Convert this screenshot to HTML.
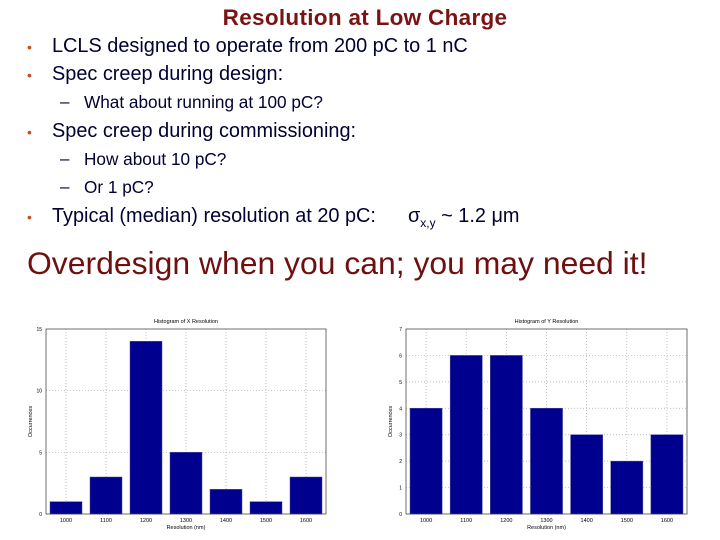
<!DOCTYPE html>
<html><head><meta charset="utf-8"><style>
body{margin:0;width:720px;height:540px;background:#fff;position:relative;overflow:hidden;font-family:"Liberation Sans",Arial,sans-serif}
.t{position:absolute;white-space:nowrap;line-height:20px;color:#000033}
.b{position:absolute;color:#c0501f;font-size:14px;line-height:20px}
</style></head><body>
<div class="t" style="left:0;width:730px;text-align:center;top:8px;font-size:22.5px;font-weight:bold;color:#7a1414;letter-spacing:0.3px">Resolution at Low Charge</div>
<div class="b" style="left:27px;top:37px">•</div>
<div class="t" style="left:52px;top:36px;font-size:19.9px">LCLS designed to operate from 200 pC to 1 nC</div>
<div class="b" style="left:27px;top:65px">•</div>
<div class="t" style="left:52px;top:64px;font-size:19.9px">Spec creep during design:</div>
<div class="t" style="left:60px;top:92px;font-size:17px">–</div>
<div class="t" style="left:84px;top:92px;font-size:17.2px">What about running at 100 pC?</div>
<div class="b" style="left:27px;top:122px">•</div>
<div class="t" style="left:52px;top:121px;font-size:19.9px">Spec creep during commissioning:</div>
<div class="t" style="left:60px;top:149px;font-size:17px">–</div>
<div class="t" style="left:84px;top:149px;font-size:17.2px">How about 10 pC?</div>
<div class="t" style="left:60px;top:177px;font-size:17px">–</div>
<div class="t" style="left:84px;top:177px;font-size:17.2px">Or 1 pC?</div>
<div class="b" style="left:27px;top:207px">•</div>
<div class="t" style="left:52px;top:206px;font-size:19.9px">Typical (median) resolution at 20 pC:</div>
<div class="t" style="left:408px;top:206px;font-size:19.9px">σ<sub style="font-size:12px">x,y</sub> ~ 1.2 μm</div>
<div class="t" style="left:27px;top:246px;font-size:31.9px;line-height:34px;color:#6e1010">Overdesign when you can; you may need it!</div>
<svg id="c" width="720" height="540" style="position:absolute;left:0;top:0"></svg>
<script>
const categories=["1000","1100","1200","1300","1400","1500","1600"];
const xValues=[1,3,14,5,2,1,3];
const yValues=[4,6,6,4,3,2,3];
const xTicks=[0,5,10,15];
const yTicks=[0,1,2,3,4,5,6,7];
const NS="http://www.w3.org/2000/svg",svg=document.getElementById('c');
function mk(t,a,p){const e=document.createElementNS(NS,t);for(const k in a)e.setAttribute(k,a[k]);(p||svg).appendChild(e);return e;}
function chart(name,title,vals,ticks,L,R,T,B){
 const g=mk('g',{});
 
 
 const ymax=ticks[ticks.length-1],band=(R-L)/categories.length;
 const ys=v=>B-(v/ymax)*(B-T),xs=i=>L+band*(i+0.5);
 ticks.forEach(t=>{const y=ys(t);
  if(t>0&&t<ymax){const gl=mk('line',{x1:L,x2:R,y1:y,y2:y,stroke:'#aaa','stroke-dasharray':'1,2','stroke-width':0.7},g);}
  const tl=mk('text',{x:L-4,y:y+2,'font-size':5,'text-anchor':'end',fill:'#000'},g);tl.textContent=t;
  });
 categories.forEach((c,i)=>{const x=xs(i);
  const gl=mk('line',{x1:x,x2:x,y1:T,y2:B,stroke:'#aaa','stroke-dasharray':'1,2','stroke-width':0.7},g);
  const bw=band*0.8,h=B-ys(vals[i]);
  const r=mk('rect',{x:x-bw/2,y:ys(vals[i]),width:bw,height:h,fill:'#00008f',stroke:'#4a4aa0','stroke-width':0.5},g);
  
  const tl=mk('text',{x:x,y:B+8,'font-size':5.5,'text-anchor':'middle',fill:'#000'},g);tl.textContent=c;
  });
 const fr=mk('rect',{x:L,y:T,width:R-L,height:B-T,fill:'none',stroke:'#333','stroke-width':0.7},g);
 
 const tt=mk('text',{x:(L+R)/2,y:T-6,'font-size':5.5,'text-anchor':'middle'},g);tt.textContent=title;
 
 const xl=mk('text',{x:(L+R)/2,y:B+15,'font-size':5.5,'text-anchor':'middle'},g);xl.textContent='Resolution (nm)';
 
 const yl=mk('text',{x:0,y:0,'font-size':5.5,'text-anchor':'middle',transform:`translate(${L-14},${(T+B)/2}) rotate(-90)`},g);yl.textContent='Occurrences';
 
}
chart('x-resolution-histogram','Histogram of X Resolution',xValues,xTicks,46,326,329,514);
chart('y-resolution-histogram','Histogram of Y Resolution',yValues,yTicks,406,687,329,514);
</script>
</body></html>
